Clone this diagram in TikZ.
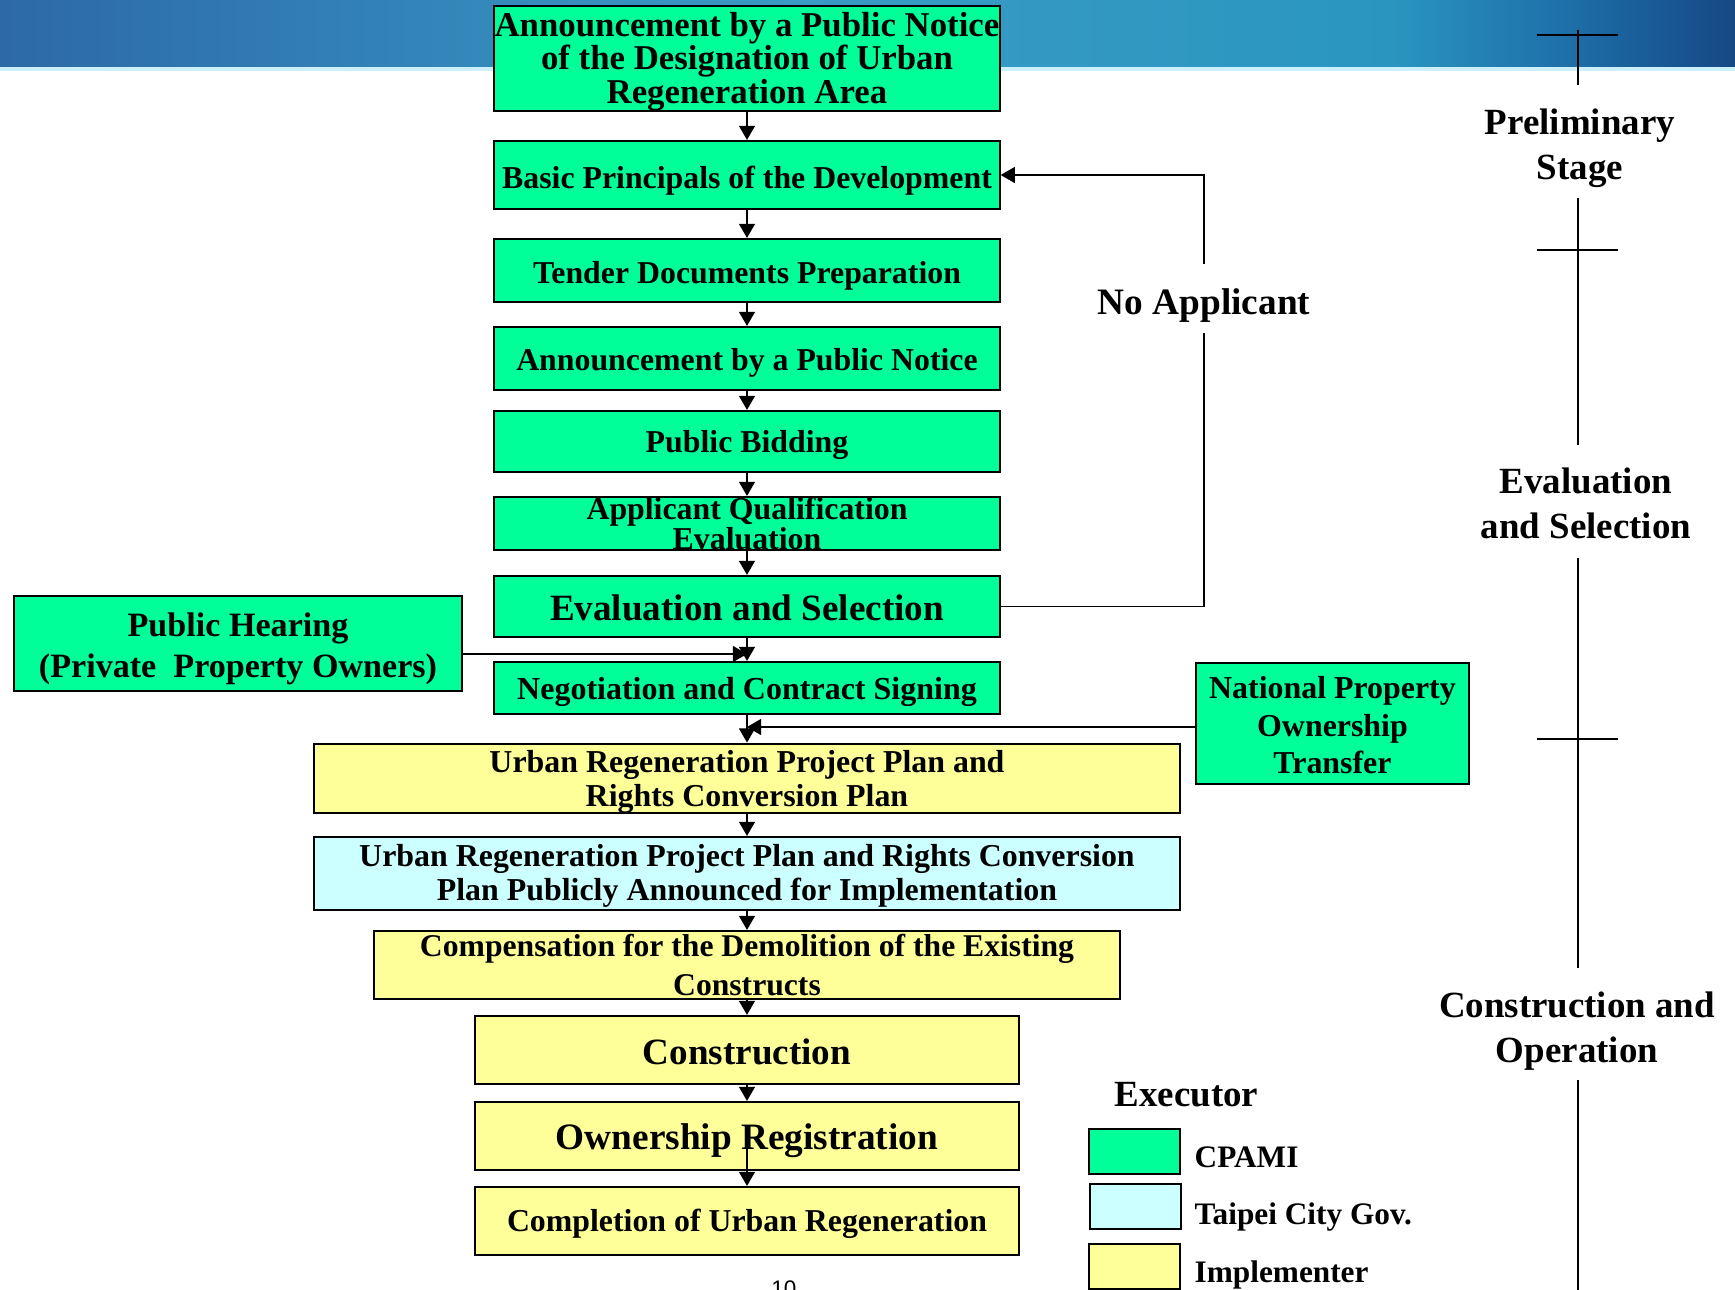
\documentclass[tikz,border=0pt]{standalone}
\usepackage{fontspec}
\setmainfont{Liberation Serif}
\setsansfont{Liberation Sans}
\usetikzlibrary{arrows.meta}

\definecolor{cpami}{RGB}{0,255,153}
\definecolor{taipei}{RGB}{204,255,255}
\definecolor{impl}{RGB}{255,255,153}
\definecolor{bnA}{RGB}{45,105,165}
\definecolor{bnB}{RGB}{50,128,182}
\definecolor{bnC}{RGB}{58,155,196}
\definecolor{bnD}{RGB}{42,150,192}
\definecolor{bnE}{RGB}{30,112,170}
\definecolor{bnF}{RGB}{22,72,132}
\pgfdeclarehorizontalshading{banner}{100bp}{color(0bp)=(bnA); color(25bp)=(bnA); color(35bp)=(bnB); color(48bp)=(bnC); color(65bp)=(bnD); color(70bp)=(bnE); color(75bp)=(bnF); color(100bp)=(bnF)}

\newcommand{\boxfont}[2]{\bfseries\fontsize{#1}{#2}\selectfont}
\newcommand{\tstrut}[1]{\rule{0pt}{#1}}

\begin{document}
\begin{tikzpicture}[x = 0.01cm, y = -0.01cm,
		box/.style = {draw, line width = 0.6pt, align = center, inner sep = 0pt},
		flow/.style = {-{Triangle[width = 4.5pt, length = 4pt]}, line width = 0.5pt},
		stagetext/.style = {align = center, inner sep = 0pt, minimum height = 1.1cm, font = \boxfont{10.5}{12.8}}]
					\def\colX{747};
					\def\wMain{5.05cm};
					\def\wWide{8.66cm};
					\def\wLow{5.44cm};

					\useasboundingbox (0,0) rectangle (1735,1290);

					\begin{scope}
						\shade [shading = banner] (0,0) rectangle (1735,68);
						\draw [white!80!cyan, line width = 1pt] (0,69) -- (1735,69);
					\end{scope}

					\begin{scope}
						\node [box, fill = cpami, minimum width = \wMain, minimum height = 1.03cm, font = \boxfont{9.9}{9.4}] (notice) at (\colX,58.5) {\tstrut{8.7pt}Announcement by a Public Notice\\of the Designation of Urban\\Regeneration Area};
						\node [box, fill = cpami, minimum width = \wMain, minimum height = 0.68cm, font = \boxfont{9.05}{10}] (basic) at (\colX,175) {\tstrut{9.4pt}Basic Principals of the Development};
						\node [box, fill = cpami, minimum width = \wMain, minimum height = 0.63cm, font = \boxfont{9.05}{10}] (tender) at (\colX,270.5) {\tstrut{9.4pt}Tender Documents Preparation};
						\node [box, fill = cpami, minimum width = \wMain, minimum height = 0.63cm, font = \boxfont{9.05}{10}] (announce) at (\colX,358.5) {\tstrut{8.8pt}Announcement by a Public Notice};
						\node [box, fill = cpami, minimum width = \wMain, minimum height = 0.61cm, font = \boxfont{9.05}{10}] (bidding) at (\colX,441.5) {\tstrut{8.45pt}Public Bidding};
						\node [box, fill = cpami, minimum width = \wMain, minimum height = 0.53cm, font = \boxfont{9.05}{8.5}] (qual) at (\colX,523.5) {Applicant Qualification\\Evaluation};
						\node [box, fill = cpami, minimum width = \wMain, minimum height = 0.61cm, font = \boxfont{10.55}{12}] (evalsel) at (\colX,606.5) {\tstrut{7.9pt}Evaluation and Selection};
						\node [box, fill = cpami, minimum width = \wMain, minimum height = 0.52cm, font = \boxfont{9.1}{10}] (nego) at (\colX,688) {\tstrut{8.8pt}Negotiation and Contract Signing};
						\node [box, fill = cpami, minimum width = 4.48cm, minimum height = 0.95cm, font = \boxfont{9.7}{11.7}] (hearing) at (238,643.5) {\tstrut{9.85pt}Public Hearing\\(Private\hspace{0.5em}Property Owners)};
						\node [box, fill = cpami, minimum width = 2.73cm, minimum height = 1.21cm, font = \boxfont{9.07}{10.8}] (natprop) at (1332.5,723.5) {\tstrut{7.2pt}National Property\\Ownership\\Transfer};
						\node [box, fill = impl, minimum width = \wWide, minimum height = 0.65cm, font = \boxfont{9.07}{9.7}] (plan) at (\colX,778.5) {\tstrut{8.15pt}Urban Regeneration Project Plan and\\Rights Conversion Plan};
						\node [box, fill = taipei, minimum width = \wWide, minimum height = 0.73cm, font = \boxfont{9.07}{9.7}] (planpub) at (\colX,873.5) {\tstrut{7.55pt}Urban Regeneration Project Plan and Rights Conversion\\Plan Publicly Announced for Implementation};
						\node [box, fill = impl, minimum width = 7.46cm, minimum height = 0.68cm, font = \boxfont{9}{11.1}] (comp) at (\colX,965) {Compensation for the Demolition of the Existing\\Constructs};
						\node [box, fill = impl, minimum width = \wLow, minimum height = 0.68cm, font = \boxfont{10.55}{12}] (constr) at (\colX,1050) {\tstrut{8.55pt}Construction};
						\node [box, fill = impl, minimum width = \wLow, minimum height = 0.68cm, font = \boxfont{10.6}{12}] (ownreg) at (\colX,1136) {\tstrut{9.85pt}Ownership Registration};
						\node [box, fill = impl, minimum width = \wLow, minimum height = 0.68cm, font = \boxfont{9.05}{10}] (done) at (\colX,1221) {\tstrut{8.15pt}Completion of Urban Regeneration};
						\node [inner sep = 0pt, minimum height = 0.67cm, font = \boxfont{10.6}{12}] (noapp) at (1204,298.5) {\tstrut{11.1pt}No Applicant};
					\end{scope}

					\begin{scope}
						\foreach \a/\b in {notice/basic, basic/tender, tender/announce, announce/bidding, bidding/qual, qual/evalsel, evalsel/nego, nego/plan, plan/planpub, planpub/comp, comp/constr, constr/ownreg}
							\draw [flow] (\a) -- (\b);
						\draw [flow] (ownreg.center) -- (done);
						\coordinate (hearout) at ([yshift = -0.105cm]hearing.east);
						\draw [flow] (hearout) -- (hearout -| nego.north);
						\coordinate (propout) at ([yshift = -0.035cm]natprop.west);
						\draw [flow] (propout) -- (propout -| plan.north);
						\draw [line width = 0.5pt] (evalsel.east) -| (noapp.south);
						\draw [flow] (noapp.north) |- (basic.east);
					\end{scope}

					\begin{scope}[line width = 0.6pt]
						\node [stagetext] (prelim) at (1580,141.5) {\tstrut{11.05pt}Preliminary\\Stage};
						\node [stagetext] (evalstage) at (1586,501.5) {\tstrut{8.5pt}Evaluation\\and Selection};
						\node [stagetext] (conststage) at (1577,1024) {\tstrut{11.05pt}Construction and\\Operation};
						\coordinate (tltop) at (1578,30);
						\coordinate (tlbot) at (1578,1295);
						\draw (tltop) -- (tltop |- prelim.north);
						\draw (tltop |- prelim.south) -- (tltop |- evalstage.north);
						\draw (tltop |- evalstage.south) -- (tltop |- conststage.north);
						\draw (tltop |- conststage.south) -- (tlbot);
						\foreach \ty in {35, 250, 739}
							\draw (1537,\ty) -- (1618,\ty);
					\end{scope}

					\begin{scope}
						\node [anchor = west, inner sep = 0pt, font = \boxfont{10.5}{12}] (executor) at (1114,1095) {Executor};
						\node [box, fill = cpami, minimum width = 0.91cm, minimum height = 0.45cm] (keyA) at (1134.5,1151.5) {};
						\node [box, fill = taipei, minimum width = 0.91cm, minimum height = 0.45cm] (keyB) at (1135.5,1206.5) {};
						\node [box, fill = impl, minimum width = 0.91cm, minimum height = 0.45cm] (keyC) at (1134.5,1266.5) {};
						\node [anchor = west, inner sep = 0pt, font = \boxfont{8.9}{10}] (labA) at (1194,1157) {CPAMI};
						\node [anchor = west, inner sep = 0pt, font = \boxfont{8.9}{10}] (labB) at (1194,1217) {Taipei City Gov.};
						\node [anchor = west, inner sep = 0pt, font = \boxfont{8.9}{10}] (labC) at (1194,1275) {Implementer};
						\node [anchor = north, inner sep = 0pt, font = \sffamily\fontsize{6.4}{7}\selectfont] (pagenum) at (784,1280) {10};
					\end{scope}
				\end{tikzpicture}
\end{document}
